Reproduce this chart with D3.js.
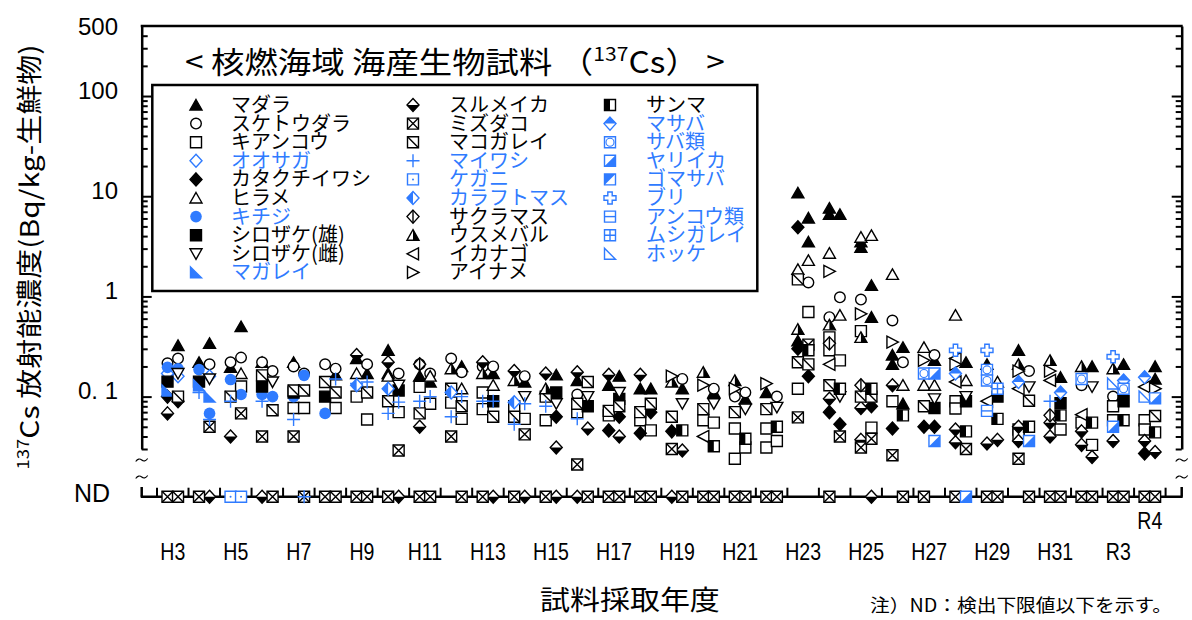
<!DOCTYPE html>
<html><head><meta charset="utf-8">
<script src="https://cdn.jsdelivr.net/npm/d3@7"></script>
<style>
@font-face{font-family:"JPTight";src:local("Noto Sans CJK JP Regular"),local("NotoSansCJKjp-Regular"),local("Noto Sans CJK JP");ascent-override:72%;descent-override:14%;line-gap-override:0%;}
body{margin:0;background:#fff;}
svg{display:block;}
</style></head><body>
<svg id="c" width="1192" height="620"></svg>
<script>
// ---------- DATA ----------
const years = ["H3","H4","H5","H6","H7","H8","H9","H10","H11","H12","H13","H14","H15","H16","H17","H18","H19","H20","H21","H22","H23","H24","H25","H26","H27","H28","H29","H30","H31","R2","R3","R4"];
const xTickLabels = ["H3","H5","H7","H9","H11","H13","H15","H17","H19","H21","H23","H25","H27","H29","H31","R3","R4"];
const yTickValues = [500,100,10,1,0.1];
const yTickLabels = ["500","100","10","1","0. 1"];
const speciesNames = ["マダラ","スケトウダラ","キアンコウ","オオサガ","カタクチイワシ","ヒラメ","キチジ","シロザケ(雄)","シロザケ(雌)","マガレイ",
  "スルメイカ","ミズダコ","マコガレイ","マイワシ","ケガニ","カラフトマス","サクラマス","ウスメバル","イカナゴ","アイナメ",
  "サンマ","マサバ","サバ類","ヤリイカ","ゴマサバ","ブリ","アンコウ類","ムシガレイ","ホッケ"];

// [year, sampling (a = first, b = second), Bq/kg or "ND"]
const madara = [["H3","b",0.324],["H4","a",0.22],["H4","b",0.34],["H5","a",0.196],["H5","b",0.5],["H6","a",0.22],["H7","a",0.22],["H8","b",0.165],["H9","a",0.24],["H9","b",0.17],["H10","a",0.29],["H10","a",0.17],["H11","a",0.16],["H11","b",0.14],["H12","b",0.2],["H13","b",0.17],["H14","b",0.14],["H15","b",0.165],["H16","a",0.145],["H17","a",0.13],["H17","b",0.16],["H18","a",0.12],["H18","b",0.12],["H19","b",0.12],["H20","b",0.11],["H21","b",0.095],["H22","a",0.11],["H23","a",10.8],["H23","b",6.07],["H23","b",3.5],["H23","a",0.36],["H24","a",7.6],["H24","a",6.6],["H24","b",6.6],["H25","a",3.5],["H25","a",3.1],["H25","b",1.29],["H25","b",0.62],["H26","a",0.26],["H26","a",0.21],["H26","b",0.31],["H26","b",0.085],["H27","b",0.23],["H28","b",0.22],["H29","a",0.21],["H30","a",0.29],["H31","b",0.156],["R2","b",0.2],["R3","b",0.21],["R4","b",0.2],["R4","b",0.15]];
const suketoudara = [["H3","a",0.215],["H3","b",0.24],["H4","b",0.21],["H5","a",0.22],["H5","b",0.245],["H6","a",0.22],["H6","b",0.18],["H7","a",0.2],["H7","b",0.17],["H8","a",0.21],["H8","b",0.19],["H9","b",0.21],["H10","b",0.17],["H11","a",0.21],["H11","b",0.17],["H12","a",0.24],["H12","b",0.175],["H13","a",0.2],["H13","b",0.2],["H14","b",0.16],["H16","a",0.105],["H19","b",0.15],["H20","b",0.12],["H21","a",0.1],["H21","b",0.11],["H22","b",0.1],["H23","b",1.38],["H24","a",0.62],["H24","b",0.98],["H25","a",0.93],["H26","a",0.575],["H26","b",0.22],["H27","b",0.26],["H30","b",0.18],["R2","a",0.13],["R3","a",0.1]];
const kiankou = [["H5","b",0.126],["H7","a",0.077],["H7","b",0.077],["H8","b",0.077],["H9","a",0.1],["H9","b",0.059],["H10","b",0.07],["H11","a",0.125],["H11","b",0.085],["H12","a",0.087],["H12","b",0.06],["H13","a",0.11],["H13","a",0.075],["H14","a",0.08],["H14","b",0.06],["H15","a",0.058],["H16","a",0.07],["H17","a",0.065],["H18","a",0.058],["H18","b",0.046],["H20","a",0.058],["H20","b",0.055],["H21","a",0.048],["H21","a",0.024],["H21","b",0.031],["H22","a",0.048],["H22","a",0.031],["H22","b",0.036],["H23","a",0.12],["H23","b",0.7],["H24","a",0.39],["H24","a",0.29],["H24","b",0.23],["H25","a",0.45],["H25","b",0.049],["H26","a",0.09],["H28","a",0.09],["H28","a",0.076],["H30","a",0.047],["H30","a",0.042],["H31","b",0.047],["R2","a",0.055],["R2","b",0.033],["R3","a",0.08],["R3","a",0.058],["R4","a",0.058],["R4","a",0.047]];
const oosaga = [["H3","a",0.17],["H3","b",0.16],["H4","b",0.16]];
const katakuchiiwashi = [["H3","a",0.1],["H3","b",0.09],["H15","b",0.063],["H17","a",0.046],["H17","b",0.063],["H18","a",0.043],["H18","b",0.07],["H19","a",0.045],["H23","a",4.9],["H23","a",0.3],["H23","b",0.16],["H24","a",0.07],["H24","b",0.053],["H25","b",0.08],["H26","a",0.048],["H27","a",0.05],["H27","b",0.05],["R4","a",0.027]];
const hirame = [["H5","b",0.17],["H9","a",0.17],["H10","a",0.16],["H11","b",0.16],["H12","b",0.12],["H13","b",0.13],["H23","a",1.86],["H23","b",2.29],["H24","a",2.7],["H24","b",0.65],["H25","a",3.9],["H25","b",4.07],["H26","a",1.66],["H26","b",0.13],["H27","a",0.31],["H27","a",0.13],["H27","b",0.13],["H28","a",0.65],["H28","b",0.145],["H29","b",0.14]];
const kichiji = [["H3","a",0.196],["H3","b",0.19],["H4","a",0.186],["H4","b",0.068],["H5","a",0.148],["H5","b",0.105],["H6","a",0.105],["H6","b",0.1],["H7","a",0.1],["H7","b",0.163],["H8","a",0.068]];
const shirozakeM = [["H3","a",0.141],["H4","a",0.141],["H6","a",0.126],["H7","a",0.11],["H8","a",0.1],["H10","b",0.115],["H13","b",0.09],["H15","b",0.11],["H16","b",0.08],["H17","b",0.095],["H27","b",0.077],["H28","b",0.09],["H29","b",0.1],["H31","b",0.086],["R3","b",0.09]];
const shirozakeF = [["H3","b",0.17],["H4","b",0.15],["H6","b",0.14],["H10","b",0.13],["H14","b",0.1],["H15","b",0.085],["H16","b",0.1],["H17","b",0.11],["H19","b",0.085],["H20","b",0.085],["H21","b",0.075],["H22","b",0.078],["H24","b",0.1],["H27","b",0.095],["H28","b",0.1],["H30","b",0.125],["R2","b",0.125]];
const magarei = [["H3","a",0.115],["H4","a",0.13],["H4","b",0.1]];
const surumeika = [["H3","a",0.068],["H5","a",0.04],["H9","a",0.26],["H10","a",0.22],["H11","a",0.05],["H13","a",0.22],["H14","a",0.18],["H15","a",0.17],["H15","b",0.031],["H16","a",0.175],["H16","b",0.048],["H17","a",0.165],["H17","b",0.04],["H18","a",0.165],["H19","b",0.029],["H24","a",0.095],["H25","a",0.077],["H25","a",0.037],["H26","a",0.13],["H28","a",0.047],["H28","a",0.035],["H29","a",0.034],["H29","b",0.037],["H30","a",0.05],["H30","a",0.036],["H31","a",0.055],["H31","a",0.04],["R2","a",0.045],["R2","a",0.033],["R2","b",0.025],["R3","a",0.036],["R4","a",0.036],["R4","b",0.028],
  ["H4","b","ND"],["H6","a","ND"],["H10","b","ND"],["H13","b","ND"],["H14","b","ND"],["H15","b","ND"],["H16","a","ND"],["H19","a","ND"],["H25","b","ND"]];
const mizudako = [["H4","b",0.05],["H5","b",0.068],["H6","a",0.04],["H7","a",0.04],["H10","b",0.029],["H12","a",0.04],["H14","b",0.042],["H16","a",0.021],["H19","a",0.03],["H23","a",0.062],["H23","b",0.33],["H24","b",0.04],["H25","a",0.031],["H25","b",0.038],["H26","a",0.026],["H28","b",0.03],["H30","a",0.024],
  ["H3","a","ND"],["H3","b","ND"],["H4","a","ND"],["H6","b","ND"],["H7","b","ND"],["H8","a","ND"],["H8","b","ND"],["H9","a","ND"],["H9","b","ND"],["H10","a","ND"],["H11","a","ND"],["H11","b","ND"],["H12","b","ND"],["H13","a","ND"],["H14","a","ND"],["H15","a","ND"],["H16","b","ND"],["H17","a","ND"],["H17","b","ND"],["H18","a","ND"],["H18","b","ND"],["H19","b","ND"],["H20","a","ND"],["H20","b","ND"],["H21","a","ND"],["H21","b","ND"],["H22","a","ND"],["H22","b","ND"],["H24","a","ND"],["H26","b","ND"],["H27","a","ND"],["H28","a","ND"],["H29","a","ND"],["H29","b","ND"],["H30","b","ND"],["H31","a","ND"],["H31","b","ND"],["R2","a","ND"],["R2","b","ND"],["R3","a","ND"],["R3","b","ND"],["R4","a","ND"],["R4","b","ND"]];
const makogarei = [["H3","b",0.1],["H5","a",0.1],["H6","a",0.163],["H6","b",0.073],["H7","a",0.115],["H7","b",0.115],["H8","a",0.14],["H8","b",0.11],["H9","b",0.11],["H10","a",0.09],["H11","a",0.068],["H12","a",0.12],["H12","b",0.08],["H13","b",0.063],["H14","a",0.063],["H15","a",0.1],["H16","a",0.085],["H16","b",0.14],["H17","a",0.072],["H17","b",0.08],["H18","a",0.07],["H18","b",0.085],["H19","a",0.063],["H20","a",0.075],["H21","a",0.07],["H22","a",0.075],["H23","a",1.48],["H23","a",0.22],["H23","b",0.21],["H24","a",0.13],["H25","a",0.1],["H25","b",0.1],["H27","a",0.08],["H30","b",0.091],["R4","b",0.064]];
const maiwashi = [["H4","a",0.11],["H4","b",0.059],["H5","a",0.09],["H6","a",0.09],["H7","a",0.059],["H8","b",0.15],["H9","a",0.135],["H9","b",0.14],["H10","a",0.068],["H10","b",0.088],["H11","a",0.09],["H11","b",0.1],["H12","a",0.063],["H12","b",0.1],["H13","a",0.09],["H13","b",0.09],["H14","a",0.053],["H14","b",0.085],["H15","a",0.08],["H16","a",0.06],["H31","a",0.09],["H7","b","ND"]];
const kegani = [["H5","a","ND"],["H5","b","ND"]];
const karafutomasu = [["H9","a",0.13],["H10","a",0.12],["H12","a",0.11],["H14","a",0.088]];
const sakuramasu = [["H11","a",0.21],["H24","a",0.34],["H25","a",0.13],["H31","a",0.065]];
const usumebaru = [["H12","a",0.19],["H13","a",0.17],["H14","a",0.145],["H15","a",0.12],["H19","a",0.14],["H20","a",0.175],["H21","a",0.145],["H23","a",0.47],["H24","a",0.52],["H25","a",0.39],["H30","a",0.21],["H31","a",0.23],["R2","a",0.2],["R3","a",0.19]];
const ikanago = [["H20","a",0.04],["H24","a",0.21],["H28","a",0.24],["H28","a",0.14],["H29","a",0.09],["H30","a",0.12],["H31","a",0.145],["R2","a",0.066],["R4","a",0.125]];
const ainame = [["H19","a",0.16],["H20","a",0.13],["H21","a",0.12],["H22","a",0.135],["H24","a",1.78],["H25","a",0.67],["H26","a",0.35],["H27","a",0.23],["H28","a",0.21],["H30","a",0.18],["H31","a",0.18],["R4","b",0.12]];
const sanma = [["H19","b",0.046],["H20","b",0.032],["H21","b",0.038],["H22","b",0.05],["H23","b",0.29],["H24","b",0.12],["H25","b",0.12],["H26","b",0.065],["H28","b",0.045],["H29","b",0.06],["H30","b",0.05],["H31","b",0.065],["R2","b",0.055],["R3","b",0.058],["R4","b",0.044]];
const masaba = [["H28","a",0.17],["H30","a",0.14],["H31","b",0.11],["R3","b",0.145],["R4","a",0.156]];
const sabarui = [["H27","a",0.17],["H29","a",0.185],["H29","a",0.145],["R2","a",0.15],["R3","b",0.12]];
const yariika = [["H27","b",0.17],["H27","b",0.036],["H30","b",0.036],["R3","a",0.05],["R4","b",0.096],["H28","b","ND"]];
const gomasaba = [];
const buri = [["H28","a",0.29],["H29","a",0.29],["R3","a",0.25]];
const ankourui = [["H29","a",0.072]];
const mushigarei = [["H29","b",0.12]];
const hokke = [["R3","a",0.135],["R4","a",0.1]];

const seriesData = [madara,suketoudara,kiankou,oosaga,katakuchiiwashi,hirame,kichiji,shirozakeM,shirozakeF,magarei,
  surumeika,mizudako,makogarei,maiwashi,kegani,karafutomasu,sakuramasu,usumebaru,ikanago,ainame,
  sanma,masaba,sabarui,yariika,gomasaba,buri,ankourui,mushigarei,hokke];

// ---------- STYLE ----------
const BLUE = "#2f7bff";
const shapeOf = ["triFill","circOpen","sq","dia","diaFill","triOpen","circFill","sqFill","triDown","rtriFill",
  "diaBot","sqX","sqDiag","plus","sqDot","diaLeft","diaV","triHalf","triL","triR",
  "sqLeft","diaTop","sqRound","sqLR","sqUL","crossOpen","sqH","sqHV","rtriOpen"];
const isBlue = new Set(["オオサガ","キチジ","マガレイ","マイワシ","ケガニ","カラフトマス","マサバ","サバ類","ヤリイカ","ゴマサバ","ブリ","アンコウ類","ムシガレイ","ホッケ"]);
const JP = "'Noto Sans CJK JP','Noto Sans',sans-serif";
const JPT = "'JPTight','Noto Sans CJK JP',sans-serif";
const LAT = "'Liberation Sans','DejaVu Sans',sans-serif";

const svg = d3.select("#c");
const x = d3.scaleBand().domain(years).range([157, 1165.6]).padding(0);
const y = d3.scaleLog().domain([0.03, 500]).range([449, 26]);
const ndY = 496.7;
const xL = 141.7, xR = 1181.7;
const subPos = (yr, s) => x(yr) + x.bandwidth() * (s === "a" ? 1/3 : 2/3);

const TRI = "M0,-5.5L6,5L-6,5Z", TRID = "M0,5.5L6,-5L-6,-5Z";
const SQ = "M-5.5,-5.5H5.5V5.5H-5.5Z", DIA = "M0,-6.5L6,0L0,6.5L-6,0Z";
const TRIL = "M-6,0L5.5,-6L5.5,6Z", TRIR = "M6,0L-5.5,-6L-5.5,6Z";
const RTRI = "M-5.5,-5.5L5.5,5.5H-5.5Z";
const CROSS = "M-2.2,-6H2.2V-2.2H6V2.2H2.2V6H-2.2V2.2H-6V-2.2H-2.2Z";
function drawShape(g, shape, c) {
  const sw = 1.4;
  const add = (d, f) => g.append("path").attr("d", d).attr("fill", f).attr("stroke", c).attr("stroke-width", sw);
  const fillOnly = d => g.append("path").attr("d", d).attr("fill", c).attr("stroke", "none");
  const line = d => g.append("path").attr("d", d).attr("fill", "none").attr("stroke", c).attr("stroke-width", sw);
  switch (shape) {
    case "triFill": add(TRI, c); break;
    case "triOpen": add(TRI, "#fff"); break;
    case "circOpen": g.append("circle").attr("r", 5.3).attr("fill", "#fff").attr("stroke", c).attr("stroke-width", sw); break;
    case "circFill": g.append("circle").attr("r", 5.8).attr("fill", c); break;
    case "sq": add(SQ, "#fff"); break;
    case "sqFill": add(SQ, c); break;
    case "dia": add(DIA, "#fff"); break;
    case "diaFill": add(DIA, c); break;
    case "triDown": add(TRID, "#fff"); break;
    case "rtriFill": add(RTRI, c); break;
    case "diaBot": add(DIA, "#fff"); fillOnly("M-6,0L6,0L0,6.5Z"); break;
    case "sqX": add(SQ, "#fff"); line("M-5.5,-5.5L5.5,5.5M5.5,-5.5L-5.5,5.5"); break;
    case "sqDiag": add(SQ, "#fff"); line("M-5.5,-5.5L5.5,5.5"); break;
    case "plus": line("M-6.5,0H6.5M0,-6.5V6.5"); break;
    case "sqDot": add(SQ, "#fff"); g.append("circle").attr("r", 1).attr("fill", c); break;
    case "diaLeft": add(DIA, "#fff"); fillOnly("M0,-6.5L-6,0L0,6.5Z"); break;
    case "diaV": add(DIA, "#fff"); line("M0,-6.5V6.5"); break;
    case "triHalf": add(TRI, "#fff"); fillOnly("M0,-5.5L6,5H0Z"); break;
    case "triL": add(TRIL, "#fff"); break;
    case "triR": add(TRIR, "#fff"); break;
    case "sqLeft": add(SQ, "#fff"); fillOnly("M-5.5,-5.5H0V5.5H-5.5Z"); break;
    case "diaTop": add(DIA, "#fff"); fillOnly("M-6,0L0,-6.5L6,0Z"); break;
    case "sqRound": add(SQ, "#fff"); g.append("circle").attr("r", 4).attr("fill", "none").attr("stroke", c).attr("stroke-width", 1.1); break;
    case "sqLR": add(SQ, "#fff"); fillOnly("M5.5,-5.5V5.5H-5.5Z"); break;
    case "sqUL": add(SQ, "#fff"); fillOnly("M-5.5,-5.5H5.5L-5.5,5.5Z"); break;
    case "crossOpen": add(CROSS, "#fff"); break;
    case "sqH": add(SQ, "#fff"); line("M-5.5,0H5.5"); break;
    case "sqHV": add(SQ, "#fff"); line("M-5.5,0H5.5M0,-5.5V5.5"); break;
    case "rtriOpen": add(RTRI, "#fff"); break;
  }
}

function draw() {
// ---------- AXES / FRAME ----------
const axW = 2.5;
const frame = svg.append("g").attr("stroke", "#000").attr("stroke-width", axW).attr("fill", "none");
frame.append("line").attr("x1", xL - 1).attr("x2", xR + 1).attr("y1", y(500)).attr("y2", y(500));
const minorTicks = [];
[0.01, 0.1, 1, 10, 100].forEach(b => { for (let k = 2; k <= 9; k++) { const v = +(b * k).toPrecision(3); if (v >= 0.03 && v < 500 && !(v === 0.1 || v === 1 || v === 10 || v === 100)) minorTicks.push(v); } });
const majorTicks = [0.1, 1, 10, 100];
[[xL, d3.axisRight], [xR, d3.axisLeft]].forEach(([xx, fn]) => {
  const ga = svg.append("g").attr("transform", `translate(${xx},0)`)
    .call(fn(y).tickValues(minorTicks).tickSize(6).tickSizeOuter(0).tickFormat(""));
  ga.selectAll("line").attr("stroke-width", 2);
  ga.select(".domain").attr("stroke-width", axW);
  const gb = svg.append("g").attr("transform", `translate(${xx},0)`)
    .call(fn(y).tickValues(majorTicks).tickSize(10).tickSizeOuter(0).tickFormat(""));
  gb.selectAll("line").attr("stroke-width", 2);
  gb.select(".domain").remove();
});
// ND baseline
frame.append("line").attr("x1", xL - 1).attr("x2", xR + 1).attr("y1", ndY).attr("y2", ndY);
frame.append("line").attr("x1", xL).attr("x2", xL).attr("y1", 487).attr("y2", ndY);
frame.append("line").attr("x1", xR).attr("x2", xR).attr("y1", 487).attr("y2", ndY);
const bounds = years.map(d => x(d)).concat([x(years[years.length - 1]) + x.bandwidth()]);
svg.append("g").selectAll("line").data(bounds).join("line")
  .attr("x1", d => d).attr("x2", d => d).attr("y1", ndY - 9).attr("y2", ndY)
  .attr("stroke", "#000").attr("stroke-width", 2);
// axis breaks
[xL, xR].forEach(xx => [460, 477].forEach(yy => {
  svg.append("path").attr("d", `M${xx - 6},${yy + 1.5} q3,-4 6,-1.5 q3,2.5 6,-1.5`)
    .attr("fill", "none").attr("stroke", "#000").attr("stroke-width", 1.1);
}));

// y tick labels
yTickValues.forEach((v, i) => {
  svg.append("text").attr("x", 118).attr("y", (v === 500 ? y(v) : y(v) - 6) + 8.5)
    .attr("text-anchor", "end").attr("font-family", LAT).attr("font-size", 24).text(yTickLabels[i]);
});
svg.append("text").attr("x", 110).attr("y", 493 + 9).attr("text-anchor", "end")
  .attr("font-family", LAT).attr("font-size", 25).text("ND");

// x tick labels
xTickLabels.forEach(lab => {
  const cx = x(lab) + x.bandwidth() / 2;
  const cy = lab === "R4" ? 520 : 551;
  svg.append("text").attr("transform", `translate(${cx},${cy + 8.5}) scale(0.85,1)`)
    .attr("text-anchor", "middle").attr("font-family", LAT).attr("font-size", 23).text(lab);
});

// ---------- TEXTS ----------
function fitWidth(t, x0, yb, w, anchor) {
  const bw = t.node().getBBox().width;
  t.attr("transform", `translate(${x0},${yb}) scale(${w / bw},1)`).attr("text-anchor", anchor || "start");
}
const title = svg.append("text").attr("font-family", JP).attr("font-size", 30);
title.append("tspan").text("< 核燃海域 海産生物試料 （");
title.append("tspan").attr("font-size", 19).attr("dy", -12).text("137");
title.append("tspan").attr("dy", 12).text("Cs） >");
fitWidth(title, 185, 73, 540);

const yl = svg.append("text").attr("font-family", JP).attr("font-size", 26);
yl.append("tspan").attr("font-size", 16).attr("dy", -10).text("137");
yl.append("tspan").attr("dy", 10).text("Cs 放射能濃度(Bq/kg-生鮮物)");
{
  const bw = yl.node().getBBox().width;
  yl.attr("text-anchor", "middle").attr("transform", `translate(39,257) rotate(-90) scale(${425 / bw},1)`);
}

const xt = svg.append("text").attr("font-family", JP).attr("font-size", 27).text("試料採取年度");
fitWidth(xt, 540, 610, 180);
const note = svg.append("text").attr("font-family", JP).attr("font-size", 18).text("注）ND：検出下限値以下を示す。");
fitWidth(note, 870, 612, 302);

// ---------- LEGEND ----------
svg.append("rect").attr("x", 152.3).attr("y", 85).attr("width", 605).attr("height", 206)
  .attr("fill", "#fff").attr("stroke", "#000").attr("stroke-width", axW);
const legCols = [[196, 231], [413, 449], [610, 646]];
speciesNames.forEach((name, i) => {
  const col = i < 10 ? 0 : (i < 20 ? 1 : 2);
  const row = i < 10 ? i : (i < 20 ? i - 10 : i - 20);
  const cy = 105 + row * 18.6;
  const c = isBlue.has(name) ? BLUE : "#000";
  const g = svg.append("g").attr("transform", `translate(${legCols[col][0]},${cy})`);
  drawShape(g, shapeOf[i], c);
  svg.append("text").attr("x", legCols[col][1]).attr("y", cy + 7).attr("font-family", JPT)
    .attr("font-size", 20).attr("fill", c).text(name);
});

// ---------- MARKS ----------
const marks = svg.append("g");
seriesData.forEach((arr, i) => {
  const c = isBlue.has(speciesNames[i]) ? BLUE : "#000";
  arr.forEach(([yr, s, v]) => {
    const g = marks.append("g").attr("transform", `translate(${subPos(yr, s)},${v === "ND" ? ndY : y(v)})`);
    drawShape(g, shapeOf[i], c);
  });
});
}
if (document.fonts && document.fonts.load) {
  document.fonts.load("20px JPTight", "マダラ").then(draw, draw);
} else draw();
</script>
</body></html>
